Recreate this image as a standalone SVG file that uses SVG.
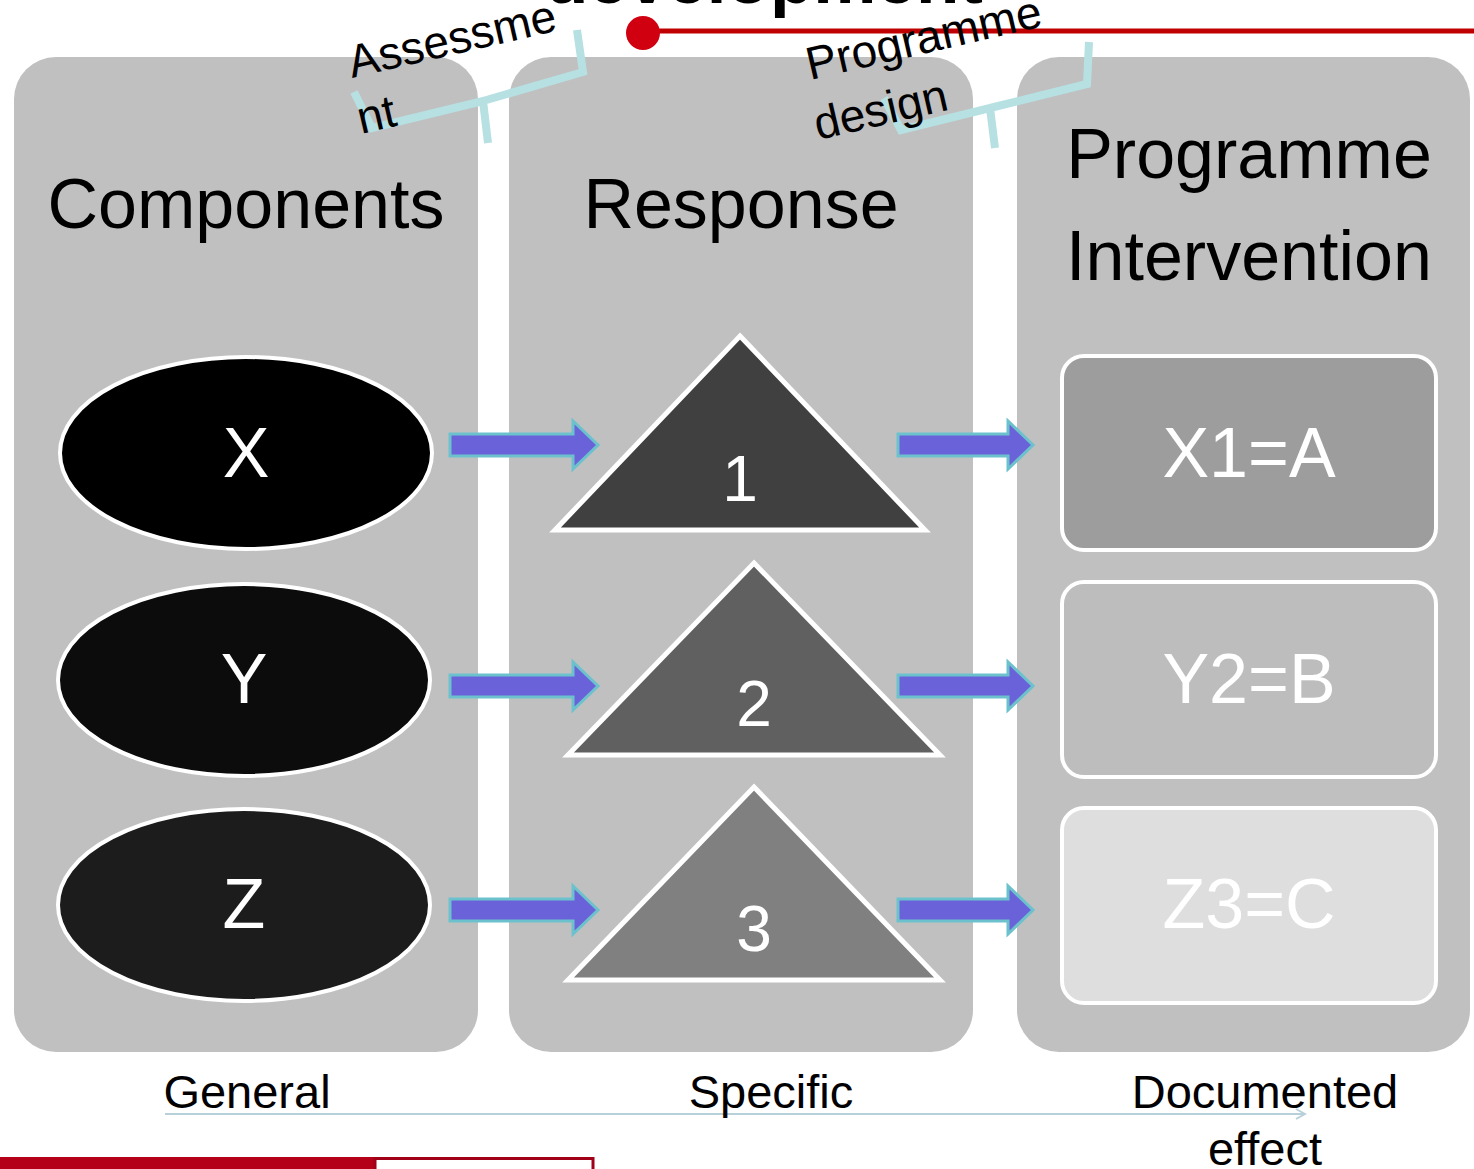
<svg xmlns="http://www.w3.org/2000/svg" width="1474" height="1169" viewBox="0 0 1474 1169">
<style>
.col{fill:#c0c0c0}
.head{font-family:"Liberation Sans",Arial,sans-serif;font-size:70px;fill:#000;text-anchor:middle}
.ell{stroke:#fff;stroke-width:4}
.tri{stroke:#fff;stroke-width:5;stroke-linejoin:miter}
.box{stroke:#fff;stroke-width:4}
.wl{font-family:"Liberation Sans",Arial,sans-serif;font-size:70px;fill:#fff;text-anchor:middle}
.num{font-family:"Liberation Sans",Arial,sans-serif;font-size:64px;fill:#fff;text-anchor:middle}
.arr{fill:#6a62d8;stroke:#6cc2cc;stroke-width:3;stroke-linejoin:miter}
.brace{fill:none;stroke:#b6e0e2;stroke-width:8;stroke-linejoin:miter}
.rot{font-family:"Liberation Sans",Arial,sans-serif;font-size:46px;fill:#000}
.foot{font-family:"Liberation Sans",Arial,sans-serif;font-size:47px;fill:#000;text-anchor:middle}
</style>
<defs>
<marker id="ah" markerWidth="12" markerHeight="12" refX="10" refY="6" orient="auto" markerUnits="userSpaceOnUse">
<path d="M1,1 L10,6 L1,11" fill="none" stroke="#b8d0da" stroke-width="2"/>
</marker>
</defs>
<rect width="1474" height="1169" fill="#fff"/>

<g id="title">
<text x="545" y="3" font-family="Liberation Sans,Arial,sans-serif" font-size="71" font-weight="bold" fill="#000">development</text>
<line x1="643" y1="31" x2="1474" y2="31" stroke="#c00000" stroke-width="5"/>
<circle cx="643" cy="33" r="17" fill="#d00010"/>
</g>

<g id="col-components">
<rect class="col" x="14" y="57" width="464" height="995" rx="42"/>
<text class="head" x="246" y="228">Components</text>
</g>
<g id="col-response">
<rect class="col" x="509" y="57" width="464" height="995" rx="42"/>
<text class="head" x="741" y="228">Response</text>
</g>
<g id="col-intervention">
<rect class="col" x="1017" y="57" width="453" height="995" rx="42"/>
<text class="head" x="1249" y="178">Programme</text>
<text class="head" x="1249" y="280">Intervention</text>
</g>

<g id="brace-assessment">
<path class="brace" d="M354,92 L372,128 L483,101 L488,143 M483,101 L583,72 L577,30"/>
<text class="rot" transform="translate(352,78) rotate(-13)">Assessme</text>
<text class="rot" transform="translate(361,134) rotate(-13)">nt</text>
</g>
<g id="brace-design">
<path class="brace" d="M884,98 L901,130 L990,108 L995,148 M990,108 L1087,84 L1089,42"/>
<text class="rot" transform="translate(810,80) rotate(-13)">Programme</text>
<text class="rot" transform="translate(818,140) rotate(-13)">design</text>
</g>

<g id="node-x">
<ellipse class="ell" cx="246" cy="453" rx="186" ry="96" fill="#000"/>
<text class="wl" x="246" y="477">X</text>
</g>
<g id="node-y">
<ellipse class="ell" cx="244" cy="680" rx="186" ry="96" fill="#0c0c0c"/>
<text class="wl" x="244" y="703">Y</text>
</g>
<g id="node-z">
<ellipse class="ell" cx="244" cy="905" rx="186" ry="96" fill="#1c1c1c"/>
<text class="wl" x="244" y="928">Z</text>
</g>

<g id="node-1">
<polygon class="tri" points="740,336 925,530 555,530" fill="#404040"/>
<text class="num" x="740" y="501">1</text>
</g>
<g id="node-2">
<polygon class="tri" points="754,563 940,755 568,755" fill="#606060"/>
<text class="num" x="754" y="726">2</text>
</g>
<g id="node-3">
<polygon class="tri" points="754,787 940,980 568,980" fill="#808080"/>
<text class="num" x="754" y="951">3</text>
</g>

<g id="node-x1a">
<rect class="box" x="1062" y="356" width="374" height="194" rx="22" fill="#9d9d9d"/>
<text class="wl" x="1249" y="477">X1=A</text>
</g>
<g id="node-y2b">
<rect class="box" x="1062" y="582" width="374" height="195" rx="22" fill="#bdbdbd"/>
<text class="wl" x="1249" y="703">Y2=B</text>
</g>
<g id="node-z3c">
<rect class="box" x="1062" y="808" width="374" height="195" rx="22" fill="#dedede"/>
<text class="wl" x="1249" y="928">Z3=C</text>
</g>

<g id="connectors">
<path class="arr" d="M450,434 L573,434 L573,421 L598,445 L573,469 L573,456 L450,456 Z"/>
<path class="arr" d="M450,675 L573,675 L573,662 L598,686 L573,710 L573,697 L450,697 Z"/>
<path class="arr" d="M450,899 L573,899 L573,886 L598,910 L573,934 L573,921 L450,921 Z"/>
<path class="arr" d="M898,434 L1008,434 L1008,421 L1033,445 L1008,469 L1008,456 L898,456 Z"/>
<path class="arr" d="M898,675 L1008,675 L1008,662 L1033,686 L1008,710 L1008,697 L898,697 Z"/>
<path class="arr" d="M898,899 L1008,899 L1008,886 L1033,910 L1008,934 L1008,921 L898,921 Z"/>
<line x1="165" y1="1114" x2="1305" y2="1114" stroke="#b8d0da" stroke-width="2" marker-end="url(#ah)"/>
</g>

<g id="footer">
<text class="foot" x="247" y="1108">General</text>
<text class="foot" x="771" y="1108">Specific</text>
<text class="foot" x="1265" y="1108">Documented</text>
<text class="foot" x="1265" y="1165">effect</text>
<rect x="0" y="1157" width="375" height="12" fill="#b5001a"/>
<rect x="375" y="1158.5" width="218" height="14" fill="#fff" stroke="#a00018" stroke-width="3"/>
</g>
</svg>
